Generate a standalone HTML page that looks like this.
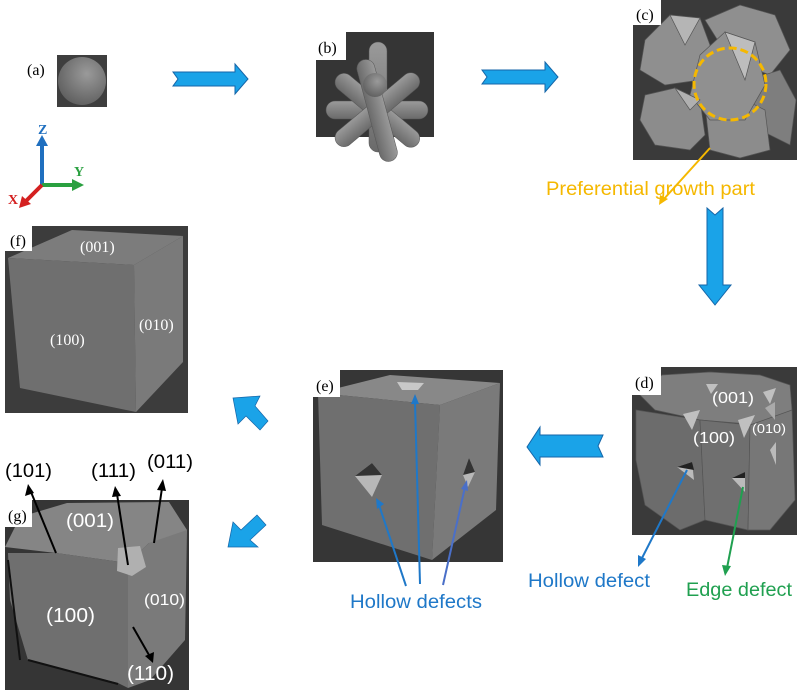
<!DOCTYPE html>
<html><head><meta charset="utf-8"><style>
html,body{margin:0;padding:0;background:#fff;}
svg{display:block;}
text{font-family:"Liberation Sans",sans-serif;}
.ser{font-family:"Liberation Serif",serif;}
</style></head><body>
<svg width="799" height="693" viewBox="0 0 799 693" xmlns="http://www.w3.org/2000/svg">
<defs>
<radialGradient id="sph" cx="0.6" cy="0.35" r="0.7"><stop offset="0" stop-color="#9a9a9a"/><stop offset="1" stop-color="#5e5e5e"/></radialGradient>
<linearGradient id="rod" x1="0" y1="0" x2="0" y2="1"><stop offset="0" stop-color="#9a9a9a"/><stop offset="1" stop-color="#6a6a6a"/></linearGradient>
</defs>
<!-- (a) -->
<rect x="57" y="55" width="50" height="52" fill="#3e3e3e"/>
<circle cx="82" cy="81" r="24" fill="url(#sph)"/>
<text x="27" y="75" class="ser" font-size="16" fill="#000">(a)</text>
<!-- arrows right -->
<polygon points="173,72 235,72 235,64 248,79 235,94 235,86 173,86 178,79" fill="#1aa3e8" stroke="#1565a8" stroke-width="1"/>
<polygon points="482,70 545,70 545,62 558,77 545,92 545,84 482,84 487,77" fill="#1aa3e8" stroke="#1565a8" stroke-width="1"/>
<!-- axes -->
<line x1="42" y1="185" x2="42" y2="143" stroke="#1f6fbf" stroke-width="4"/>
<polygon points="36,146 48,146 42,135" fill="#1f6fbf"/>
<text x="38" y="134" class="ser" font-size="14" font-weight="bold" fill="#1f6fbf">Z</text>
<line x1="42" y1="185" x2="74" y2="185" stroke="#2aa040" stroke-width="4"/>
<polygon points="72,179 72,191 84,185" fill="#2aa040"/>
<text x="74" y="176" class="ser" font-size="14" font-weight="bold" fill="#2aa040">Y</text>
<line x1="42" y1="185" x2="26" y2="201" stroke="#d42020" stroke-width="4"/>
<polygon points="22,196 31,204 19,208" fill="#d42020"/>
<text x="8" y="204" class="ser" font-size="14" font-weight="bold" fill="#d42020">X</text>
<!-- (b) -->
<rect x="316" y="32" width="118" height="105" fill="#353535"/>
<g fill="url(#rod)" stroke="#555" stroke-width="0.5">
<rect x="326" y="101" width="102" height="18" rx="9"/>
<rect x="369" y="42" width="18" height="110" rx="9"/>
<rect x="325" y="101" width="105" height="18" rx="9" transform="rotate(40 377 110)"/>
<rect x="325" y="101" width="105" height="18" rx="9" transform="rotate(-40 377 110)"/>
<rect x="325" y="101" width="105" height="18" rx="9" transform="rotate(75 377 110)"/>
</g>
<circle cx="375" cy="85" r="12" fill="url(#sph)"/>
<rect x="316" y="32" width="30" height="28" fill="#fff"/>
<text x="318" y="53" class="ser" font-size="16" fill="#000">(b)</text>
<!-- (c) -->
<rect x="633" y="0" width="164" height="160" fill="#3a3a3a"/>
<g stroke="#555" stroke-width="0.7">
<polygon points="645,40 670,15 700,18 710,45 700,80 665,85 640,70" fill="#8f8f8f"/>
<polygon points="705,20 740,5 775,15 790,50 770,75 730,60" fill="#8f8f8f"/>
<polygon points="748,80 780,70 796,100 790,145 760,130" fill="#7e7e7e"/>
<polygon points="645,95 675,88 700,100 705,135 690,150 655,145 640,120" fill="#8c8c8c"/>
<polygon points="705,105 735,95 765,110 770,150 740,158 710,150" fill="#8c8c8c"/>
<polygon points="700,55 725,32 755,42 765,85 745,120 710,120 690,95" fill="#909090"/>
<polygon points="725,32 755,42 745,80" fill="#bdbdbd"/>
<polygon points="670,15 700,18 685,45" fill="#b5b5b5"/>
<polygon points="675,88 700,100 690,110" fill="#b0b0b0"/>
</g>
<circle cx="730" cy="84" r="36" fill="none" stroke="#f5b800" stroke-width="3" stroke-dasharray="8 4"/>
<rect x="633" y="0" width="28" height="25" fill="#fff"/>
<text x="636" y="20" class="ser" font-size="16" fill="#000">(c)</text>
<line x1="710" y1="148" x2="663" y2="200" stroke="#f5b800" stroke-width="2"/>
<polygon points="659,205 660,195 668,199" fill="#f5b800"/>
<text x="546" y="195" font-size="19" fill="#f5b800" textLength="209" lengthAdjust="spacingAndGlyphs">Preferential growth part</text>
<!-- down arrow -->
<polygon points="707,208 715,215 723,208 723,285 731,285 715,305 699,285 707,285" fill="#1aa3e8" stroke="#1565a8" stroke-width="1"/>
<!-- (f) -->
<rect x="5" y="226" width="183" height="187" fill="#3c3c3c"/>
<polygon points="8,258 72,230 183,236 134,265" fill="#7c7c7c"/>
<polygon points="8,258 134,265 136,412 20,388" fill="#6f6f6f"/>
<polygon points="134,265 183,236 183,362 136,412" fill="#7a7a7a"/>
<rect x="5" y="226" width="27" height="25" fill="#fff"/>
<text x="10" y="246" class="ser" font-size="16" fill="#000">(f)</text>
<text x="80" y="252" class="ser" font-size="16" fill="#fff">(001)</text>
<text x="50" y="345" class="ser" font-size="16" fill="#fff">(100)</text>
<text x="139" y="330" class="ser" font-size="16" fill="#fff">(010)</text>
<!-- chevrons -->
<polygon points="233,398 260,396 255,406 268,421 260,430 246,416 238,424" fill="#1aa3e8" stroke="#1565a8" stroke-width="0.7"/>
<polygon points="228,547 233,522 241,530 257,515 266,525 250,540 258,547" fill="#1aa3e8" stroke="#1565a8" stroke-width="0.7"/>
<!-- (e) -->
<rect x="313" y="370" width="190" height="192" fill="#363636"/>
<polygon points="318,393 390,375 500,383 440,405" fill="#888"/>
<polygon points="318,393 440,405 432,560 322,525" fill="#6f6f6f"/>
<polygon points="440,405 500,383 496,510 432,560" fill="#7a7a7a"/>
<polygon points="397,382 424,383 418,390 402,390" fill="#c8c8c8"/>
<polygon points="355,476 372,463 382,475 372,497" fill="#b8b8b8"/>
<polygon points="355,476 372,463 382,475" fill="#333"/>
<polygon points="463,475 469,458 475,472 468,487" fill="#b8b8b8"/>
<polygon points="463,475 469,458 475,472" fill="#333"/>
<rect x="313" y="370" width="27" height="27" fill="#fff"/>
<text x="316" y="391" class="ser" font-size="16" fill="#000">(e)</text>
<g stroke="#1f78c8" stroke-width="2">
<line x1="406" y1="586" x2="379" y2="505"/>
<line x1="420" y1="584" x2="415" y2="402"/>
</g>
<line x1="443" y1="585" x2="465" y2="487" stroke="#4a6fc8" stroke-width="2"/>
<polygon points="376,498 384,504 377,509" fill="#1f78c8"/>
<polygon points="411,404 419,404 415,394" fill="#1f78c8"/>
<polygon points="461,489 468,491 467,480" fill="#4a6fc8"/>
<text x="350" y="608" font-size="19" fill="#1f78c8" textLength="132" lengthAdjust="spacingAndGlyphs">Hollow defects</text>
<!-- left arrow -->
<polygon points="603,435 540,435 540,427 527,447 540,465 540,457 603,457 598,446" fill="#1aa3e8" stroke="#1565a8" stroke-width="1"/>
<!-- (d) -->
<rect x="632" y="367" width="165" height="168" fill="#3a3a3a"/>
<g stroke="#555" stroke-width="0.7">
<polygon points="640,395 662,375 710,372 760,375 790,385 792,410 760,425 700,420 655,410" fill="#7e7e7e"/>
<polygon points="636,410 700,420 705,520 680,530 645,505 636,460" fill="#6c6c6c"/>
<polygon points="700,420 750,425 748,530 705,520" fill="#6f6f6f"/>
<polygon points="750,425 792,410 795,500 770,530 748,530" fill="#777"/>
</g>
<polygon points="706,384 718,384 711,394" fill="#c0c0c0"/>
<polygon points="763,392 776,388 770,404" fill="#c0c0c0"/>
<polygon points="683,414 700,410 692,430" fill="#c0c0c0"/>
<polygon points="738,420 755,415 744,438" fill="#c0c0c0"/>
<polygon points="677,467 692,462 694,480" fill="#bbb"/>
<polygon points="677,467 692,462 694,470" fill="#222"/>
<polygon points="732,478 745,472 745,492" fill="#bbb"/>
<polygon points="732,478 745,472 745,478" fill="#222"/>
<polygon points="770,450 776,442 776,465" fill="#bbb"/>
<polygon points="765,408 775,402 775,420" fill="#aaa"/>
<rect x="632" y="367" width="29" height="28" fill="#fff"/>
<text x="635" y="388" class="ser" font-size="16" fill="#000">(d)</text>
<text x="712" y="403" font-size="16" fill="#fff" textLength="42" lengthAdjust="spacingAndGlyphs">(001)</text>
<text x="693" y="443" font-size="16" fill="#fff" textLength="42" lengthAdjust="spacingAndGlyphs">(100)</text>
<text x="752" y="433" font-size="13" fill="#fff" textLength="34" lengthAdjust="spacingAndGlyphs">(010)</text>
<line x1="687" y1="470" x2="641" y2="560" stroke="#1f78c8" stroke-width="2"/>
<polygon points="638,567 638,555 646,559" fill="#1f78c8"/>
<line x1="743" y1="487" x2="727" y2="568" stroke="#20a050" stroke-width="2"/>
<polygon points="725,576 722,565 731,566" fill="#20a050"/>
<text x="528" y="587" font-size="19" fill="#1f78c8" textLength="122" lengthAdjust="spacingAndGlyphs">Hollow defect</text>
<text x="686" y="596" font-size="19" fill="#20a050" textLength="106" lengthAdjust="spacingAndGlyphs">Edge defect</text>
<!-- (g) -->
<rect x="5" y="500" width="184" height="190" fill="#353535"/>
<polygon points="5,547 20,517 67,503 169,502 187,530 180,542 149,543 128,563 56,553" fill="#858585"/>
<polygon points="8,553 56,553 128,563 128,688 118,683 28,660 10,600" fill="#6f6f6f"/>
<polygon points="128,563 149,543 187,530 185,640 150,680 128,688" fill="#7a7a7a"/>
<polygon points="118,548 140,546 146,567 132,576 117,571" fill="#b0b0b0"/>
<line x1="8" y1="560" x2="20" y2="660" stroke="#111" stroke-width="2"/>
<line x1="28" y1="660" x2="118" y2="684" stroke="#111" stroke-width="2"/>
<rect x="5" y="500" width="27" height="27" fill="#fff"/>
<text x="8" y="521" class="ser" font-size="16" fill="#000">(g)</text>
<text x="66" y="527" font-size="19" fill="#fff" textLength="48" lengthAdjust="spacingAndGlyphs">(001)</text>
<text x="46" y="622" font-size="20" fill="#fff" textLength="49" lengthAdjust="spacingAndGlyphs">(100)</text>
<text x="144" y="605" font-size="16" fill="#fff" textLength="41" lengthAdjust="spacingAndGlyphs">(010)</text>
<text x="127" y="680" font-size="20" fill="#fff" textLength="47" lengthAdjust="spacingAndGlyphs">(110)</text>
<text x="5" y="477" font-size="19" fill="#000" textLength="47" lengthAdjust="spacingAndGlyphs">(101)</text>
<text x="91" y="477" font-size="19" fill="#000" textLength="45" lengthAdjust="spacingAndGlyphs">(111)</text>
<text x="147" y="468" font-size="19" fill="#000" textLength="46" lengthAdjust="spacingAndGlyphs">(011)</text>
<g stroke="#000" stroke-width="2">
<line x1="56" y1="553" x2="31" y2="492"/>
<line x1="128" y1="565" x2="117" y2="494"/>
<line x1="154" y1="543" x2="162" y2="488"/>
<line x1="133" y1="627" x2="149" y2="655"/>
</g>
<polygon points="28,484 25,496 34,493" fill="#000"/>
<polygon points="115,486 112,497 121,496" fill="#000"/>
<polygon points="163,479 157,490 166,491" fill="#000"/>
<polygon points="153,663 145,656 154,652" fill="#000"/>
</svg>
</body></html>
